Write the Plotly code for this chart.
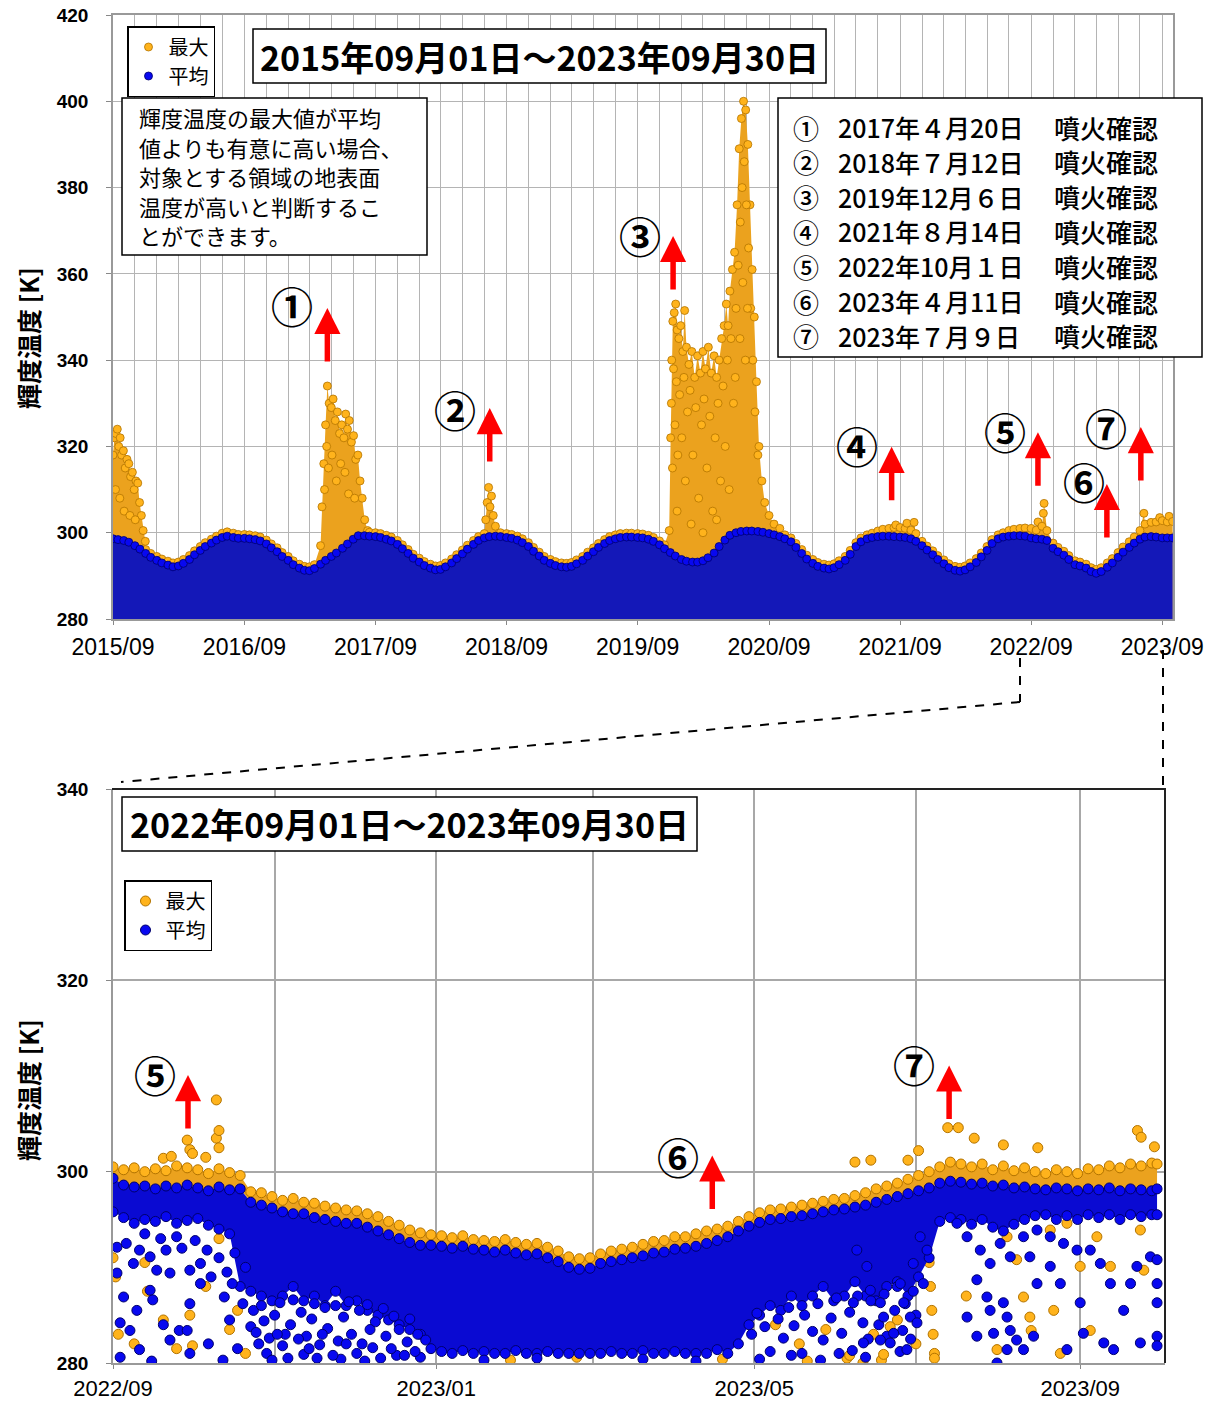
import pandas as pd
import plotly.graph_objects as go

FONT = "Noto Sans CJK JP"
NUMF = "Liberation Sans"
W, H = 1212, 1405


def px(x):
    return x / W


def py(y):
    return 1 - y / H


# ---------------- data: top panel (2015/09/01 - 2023/09/30) ----------------
top_dates = list(pd.date_range("2015-09-01", "2023-09-15", freq="SMS").strftime("%Y-%m-%d")) + ["2023-09-30"]

# upper edge of the "mean" brightness-temperature cloud (semi-monthly, K)
top_mean = [
    298.6, 298.4, 298.2, 297.8, 297.0, 296.2, 295.2, 294.3, 293.6, 293.0, 292.5, 292.1, 292.3, 292.9, 293.8, 294.9, 295.9, 296.8, 297.6, 298.3, 298.9, 299.2, 298.9, 298.7,
    298.7, 298.6, 298.4, 298.1, 297.4, 296.5, 295.6, 294.5, 293.6, 292.6, 291.8, 291.3, 291.2, 291.7, 292.7, 293.6, 294.5, 295.3, 296.4, 297.4, 298.5, 299.3, 299.3, 299.2,
    299.1, 298.9, 298.5, 298.1, 297.3, 296.3, 295.2, 294.1, 293.2, 292.4, 291.8, 291.4, 291.5, 292.1, 293.0, 294.0, 295.1, 296.2, 297.3, 298.2, 298.8, 299.1, 299.2, 299.1,
    298.9, 298.7, 298.3, 297.7, 296.8, 295.7, 294.6, 293.6, 292.9, 292.4, 292.1, 292.0, 292.2, 292.8, 293.6, 294.6, 295.6, 296.6, 297.5, 298.2, 298.6, 298.9, 299.0, 299.0,
    298.9, 298.8, 298.5, 298.0, 297.2, 296.3, 295.4, 294.6, 293.8, 293.4, 293.2, 293.2, 293.5, 294.2, 295.3, 296.8, 298.3, 299.4, 300.0, 300.3, 300.4, 300.4, 300.3, 300.1,
    299.8, 299.5, 299.1, 298.6, 297.9, 296.6, 295.2, 293.9, 292.9, 292.2, 291.8, 291.6, 291.9, 292.6, 293.6, 295.0, 296.8, 297.9, 298.6, 298.9, 299.1, 299.2, 299.2, 299.1,
    299.0, 298.9, 298.6, 298.0, 297.0, 296.0, 294.9, 293.8, 292.8, 291.9, 291.3, 291.1, 291.4, 292.1, 293.1, 294.4, 295.9, 297.5, 298.6, 299.0, 299.2, 299.3, 299.3, 299.2,
    298.8, 298.6, 298.5, 298.2, 296.4, 295.6, 294.8, 293.8, 292.6, 292.3, 291.8, 291.0, 290.6, 291.0, 292.0, 293.0, 294.3, 295.5, 296.6, 297.6, 298.5, 299.0, 299.1, 299.0,
    298.8, 298.8, 298.8,
]

# upper edge of the "max" values (semi-monthly, K); None where the detailed anomaly list applies
top_max = [
    None, None, None, None, None, None, 296.1, 295.2, 294.5, 293.9, 293.4, 293.0, 293.2, 293.8, 294.7, 295.8, 296.8, 297.7, 298.5, 299.2, 299.9, 300.2, 299.9, 299.6,
    299.6, 299.5, 299.3, 299.0, 298.3, 297.4, 296.5, 295.4, 294.5, 293.5, 292.7, 292.2, 292.1, 292.6, None, None, None, None, None, None, None, None, None, 300.1,
    300.0, 299.8, 299.4, 299.0, 298.2, 297.2, 296.1, 295.0, 294.1, 293.3, 292.7, 292.3, 292.4, 293.0, 293.9, 294.9, 296.0, 297.1, 298.2, 299.1, 299.8, None, None, 300.0,
    299.8, 299.6, 299.2, 298.6, 297.7, 296.6, 295.5, 294.5, 293.8, 293.3, 293.0, 292.9, 293.1, 293.7, 294.5, 295.5, 296.5, 297.5, 298.4, 299.1, 299.5, 299.8, 299.9, 299.9,
    299.8, 299.7, 299.4, 298.9, 298.1, 297.2, None, None, None, None, None, None, None, None, None, None, None, None, None, None, None, None, None, None,
    None, None, None, 299.5, 298.8, 297.5, 296.1, 294.8, 293.8, 293.1, 292.7, 292.5, 292.8, 293.5, 294.5, 295.9, 297.7, 298.8, 299.5, 299.9, 300.4, 300.8, 301.0, 301.2,
    301.2, 301.0, 300.6, 299.8, 298.0, 296.9, 295.8, 294.7, 293.7, 292.8, 292.2, 292.0, 292.3, 293.0, 294.0, 295.3, 296.8, 298.4, 299.5, 300.0, 300.5, 300.8, 301.0, 301.1,
    301.0, 300.6, 301.5, 300.5, 297.6, 296.6, 295.7, 294.7, 293.5, 293.2, 292.7, 291.9, 291.5, 291.9, 293.0, 294.0, 295.4, 296.7, 297.9, 299.0, 300.5, 302.0, 302.4, 302.5,
    302.8, 302.5, 302.6,
]

# upper edge of the "max" values during the thermal anomalies (date, K)
top_anomaly_edge = [
    ("2015-09-01", 318), ("2015-09-05", 322), ("2015-09-09", 323), ("2015-09-13", 324), ("2015-09-17", 320),
    ("2015-09-21", 322), ("2015-09-25", 318), ("2015-09-30", 319), ("2015-10-05", 315), ("2015-10-10", 317),
    ("2015-10-15", 316), ("2015-10-20", 313), ("2015-10-25", 314), ("2015-10-30", 310), ("2015-11-04", 312),
    ("2015-11-09", 311.5), ("2015-11-14", 307), ("2015-11-19", 304), ("2015-11-24", 300.5), ("2015-11-30", 298),
    ("2017-04-01", 297), ("2017-04-05", 306), ("2017-04-10", 316), ("2017-04-15", 325), ("2017-04-20", 334),
    ("2017-04-25", 330), ("2017-05-01", 329), ("2017-05-06", 331), ("2017-05-12", 326), ("2017-05-18", 328),
    ("2017-05-24", 323), ("2017-05-30", 325), ("2017-06-05", 322), ("2017-06-10", 327.5), ("2017-06-15", 324),
    ("2017-06-20", 326), ("2017-06-26", 321), ("2017-07-02", 322.5), ("2017-07-08", 317), ("2017-07-14", 318),
    ("2017-07-20", 312), ("2017-07-26", 308), ("2017-08-02", 303), ("2017-08-10", 300.5),
    ("2018-07-05", 303), ("2018-07-09", 307), ("2018-07-13", 310.5), ("2018-07-17", 306), ("2018-07-21", 308.5),
    ("2018-07-26", 304), ("2018-08-01", 301.5),
    ("2019-11-28", 300.5), ("2019-12-02", 322), ("2019-12-05", 340), ("2019-12-08", 349), ("2019-12-12", 351),
    ("2019-12-16", 353), ("2019-12-20", 347), ("2019-12-25", 345), ("2019-12-30", 348), ("2020-01-05", 342),
    ("2020-01-10", 351.5), ("2020-01-15", 343), ("2020-01-22", 339), ("2020-01-30", 342), ("2020-02-07", 336),
    ("2020-02-15", 341), ("2020-02-23", 337), ("2020-03-01", 342), ("2020-03-08", 338), ("2020-03-16", 343),
    ("2020-03-24", 337), ("2020-04-01", 341), ("2020-04-08", 336), ("2020-04-15", 340), ("2020-04-22", 345),
    ("2020-04-29", 348), ("2020-05-05", 353), ("2020-05-10", 348), ("2020-05-15", 356), ("2020-05-22", 361),
    ("2020-05-28", 365), ("2020-06-04", 376), ("2020-06-10", 389), ("2020-06-16", 396), ("2020-06-22", 400),
    ("2020-06-28", 398), ("2020-07-04", 390), ("2020-07-10", 376), ("2020-07-16", 361), ("2020-07-22", 350),
    ("2020-07-28", 335), ("2020-08-04", 320), ("2020-08-12", 312), ("2020-08-20", 307), ("2020-09-01", 304),
    ("2020-09-15", 302), ("2020-10-01", 301),
    ("2021-08-20", 301.8), ("2021-09-20", 302.2), ("2021-10-10", 302.4),
    ("2022-09-20", 302.5), ("2022-10-05", 304.5), ("2022-10-07", 306.8),
    ("2023-07-12", 304.5), ("2023-08-25", 303.5), ("2023-09-20", 303.8),
]
# further "max" readings inside the anomaly clouds (date, K)
top_anomaly_inner = [
    ("2015-09-08", 310), ("2015-09-20", 308), ("2015-10-02", 305), ("2015-10-18", 304), ("2015-11-02", 303),
    ("2017-04-12", 310), ("2017-04-18", 320), ("2017-04-23", 315), ("2017-05-03", 318), ("2017-05-15", 312),
    ("2017-05-27", 316), ("2017-06-08", 314), ("2017-06-18", 309), ("2017-07-05", 308),
    ("2019-12-04", 330), ("2019-12-07", 315), ("2019-12-10", 338), ("2019-12-14", 325), ("2019-12-18", 335),
    ("2019-12-22", 318), ("2019-12-27", 332), ("2020-01-02", 322), ("2020-01-08", 336), ("2020-01-12", 312),
    ("2020-01-18", 328), ("2020-01-25", 333), ("2020-02-02", 318), ("2020-02-10", 329), ("2020-02-18", 308),
    ("2020-02-26", 325), ("2020-03-04", 331), ("2020-03-12", 315), ("2020-03-20", 327), ("2020-03-28", 305),
    ("2020-04-04", 322), ("2020-04-12", 330), ("2020-04-19", 312), ("2020-04-26", 334), ("2020-05-02", 320),
    ("2020-05-08", 340), ("2020-05-13", 310), ("2020-05-18", 345), ("2020-05-25", 330), ("2020-06-01", 352),
    ("2020-06-07", 362), ("2020-06-13", 372), ("2020-06-18", 380), ("2020-06-24", 386), ("2020-06-30", 376),
    ("2020-07-06", 366), ("2020-07-12", 352), ("2020-07-18", 340), ("2020-07-24", 328), ("2020-08-01", 318),
    ("2020-06-12", 345), ("2020-06-20", 358), ("2020-06-27", 340), ("2020-07-03", 352), ("2020-05-30", 336),
    ("2020-01-28", 302), ("2020-03-01", 300), ("2020-04-08", 303), ("2019-12-20", 305),
]

eruption_dates = ["2017-04-20", "2018-07-12", "2019-12-06", "2021-08-14", "2022-10-01", "2023-04-11", "2023-07-09"]
eruption_marks = ["①", "②", "③", "④", "⑤", "⑥", "⑦"]
eruption_text = ["2017年４月20日", "2018年７月12日", "2019年12月６日", "2021年８月14日",
                 "2022年10月１日", "2023年４月11日", "2023年７月９日"]
eruption_word = "噴火確認"

note_lines = ["輝度温度の最大値が平均", "値よりも有意に高い場合、", "対象とする領域の地表面",
              "温度が高いと判断するこ", "とができます。"]

# ---------------- data: bottom panel (2022/09/01 - 2023/09/30) ----------------
bot_dates = list(pd.date_range("2022-09-01", periods=99, freq="4D").strftime("%Y-%m-%d")) + ["2023-09-30"]

bot_mean_top = [
    299.3, 298.6, 298.4, 298.5, 298.2, 298.5, 298.3, 298.6, 298.3, 298.0, 298.4, 298.1, 298.2,
    296.8, 296.5, 296.2, 295.8, 295.6, 295.6, 295.2, 295.0, 294.8, 294.6, 294.6, 294.2, 293.8, 293.4, 293.0, 292.6, 292.3,
    292.3, 292.2, 292.0, 292.2, 291.9, 291.8, 291.6, 291.8, 291.5, 291.3, 291.4, 291.0, 290.6, 290.0, 289.8,
    289.9, 290.4, 290.6, 290.8, 291.0, 291.2, 291.5, 291.6, 291.9, 292.0, 292.2, 292.5, 292.8, 293.2, 293.8,
    294.3, 294.7, 295.0, 295.1, 295.3, 295.4, 295.6, 295.8, 296.0, 296.1, 296.3, 296.5, 296.8, 297.1, 297.4, 297.7, 298.0,
    298.3, 298.8, 299.0, 298.9, 298.7, 298.8, 298.5, 298.6, 298.3, 298.4, 298.2, 298.1, 298.3, 298.2, 298.0, 298.2, 298.1,
    298.3, 298.0, 298.2, 298.1, 298.0,
    298.2,
]
bot_mean_floor = [
    295.8, 295.2, 294.6, 295.0, 294.8, 295.3, 294.6, 294.9, 295.1, 294.4, 294.0, 293.5, 288.0,
    287.5, 287.0, 286.5, 287.0, 288.0, 286.5, 287.0, 286.0, 287.5, 286.0, 286.5, 285.5, 285.0, 284.5, 284.0, 283.5, 283.0,
    281.5, 281.2, 281.0, 281.3, 281.0, 281.2, 281.0, 281.0, 281.3, 281.0, 281.0, 281.2, 281.0, 281.0, 281.0,
    281.0, 281.0, 281.2, 281.0, 281.0, 281.3, 281.0, 281.0, 281.2, 281.0, 281.0, 281.0, 281.4, 281.0, 282.0,
    284.0, 285.0, 286.0, 285.5, 287.0, 286.0, 287.0, 288.0, 286.5, 287.0, 288.5, 287.0, 286.5, 288.0, 288.5, 287.0, 289.0,
    291.0, 294.8, 295.2, 295.0, 294.5, 295.0, 294.2, 293.8, 294.5, 295.0, 295.4, 295.5, 295.0, 295.4, 295.0, 295.5, 295.2,
    295.5, 295.0, 295.5, 295.3, 295.5,
    295.5,
]
bot_max_top = [
    300.5, 300.2, 300.4, 300.0, 300.3, 300.1, 300.6, 300.4, 300.2, 299.8, 300.3, 299.9, 299.6,
    297.9, 297.8, 297.4, 297.0, 297.2, 296.8, 296.7, 296.4, 296.2, 296.0, 295.9, 295.6, 295.3, 294.8, 294.4, 293.9, 293.6,
    293.4, 293.3, 293.1, 293.3, 292.9, 292.8, 292.7, 292.9, 292.6, 292.4, 292.5, 292.1, 291.7, 291.1, 290.9,
    291.0, 291.4, 291.7, 291.9, 292.1, 292.4, 292.7, 292.8, 293.2, 293.2, 293.5, 293.8, 294.0, 294.3, 294.8,
    295.3, 295.7, 296.0, 296.1, 296.3, 296.5, 296.7, 296.9, 297.1, 297.2, 297.5, 297.8, 298.2, 298.5, 298.8, 299.2, 299.6,
    300.0, 300.5, 301.0, 300.8, 300.5, 300.8, 300.2, 300.6, 300.1, 300.4, 300.0, 299.8, 300.2, 300.0, 299.8, 300.3, 300.2,
    300.6, 300.4, 300.8, 300.6, 300.9,
    300.8,
]

# individual readings: (days after 2022-09-01, K)
bot_max_high = [
    (19, 301.4), (22, 301.6), (28, 303.3), (29, 302.3), (30, 301.9), (35, 301.5), (39, 307.5), (39, 303.5),
    (40, 304.3), (40, 302.5), (280, 301.0), (286, 301.2), (300, 301.2), (304, 302.2), (315, 304.6), (319, 304.6),
    (325, 303.5), (336, 302.8), (349, 302.5), (386.6, 304.3), (388, 303.6), (393, 302.6),
]
bot_max_low = [
    (0, 291), (1, 289), (2, 283), (8, 282), (13, 287.5), (19, 284.5), (29, 285), (30, 281.8), (24, 281.5),
    (35, 288), (44, 283.5), (47, 285.5), (50, 281), (12, 290.5), (40, 293), (150, 280.3), (175, 280.6),
    (230, 280.4), (250, 284.0), (259, 282.0), (269, 283.5), (277, 280.5), (287, 283.0), (296, 284.5), (303, 282.0),
    (262, 280.2), (278, 280.8), (290, 280.3), (293.3, 283.8), (290.8, 280.9), (283, 280), (308, 290.5),
    (308.5, 288), (309, 285.5), (309.5, 283), (310, 281), (310, 280.5), (322, 287), (333.6, 281.4),
    (343.6, 286.9), (346, 284.8), (346.5, 283.4), (341, 290.8), (337.4, 293.2), (355, 285.5), (357.5, 281),
    (365, 290.1), (368.8, 283.4), (376.4, 290.1), (387.7, 293.9), (389, 289.7), (371.3, 293.2), (353.7, 293.9),
    (360, 294.6),
]
bot_mean_low = [
    (1.5, 292.1), (5, 292.5), (7.7, 290.4), (10, 291.8), (14, 291.1), (16.5, 289.7), (20, 291.8), (21.5, 289.4),
    (1.5, 289.4), (4, 286.9), (2.7, 284.2), (6.4, 283.4), (2.7, 280.6), (10, 281.4), (14.6, 280.2), (14, 287.6),
    (15, 286.6), (21.5, 282.4), (25, 283.4), (28, 283.4), (29, 286.2), (29, 289.7), (33, 290.4), (33, 288.3),
    (29, 281.0), (42, 286.9), (41.5, 280.3), (35.5, 291.8), (24, 293.2), (45, 288.3), (49, 286.2), (52, 283.8),
    (12, 293.5), (18, 293.0), (26, 292.0), (31, 292.8), (37, 289.0), (44, 284.5), (47, 281.5), (9, 285.5),
    (19, 284.0), (36, 282.0), (50, 290.0), (40, 291.0), (43, 289.5), (46, 291.5),
    (53, 285.5), (54, 283.2), (56, 286.0), (57, 284.4), (59, 282.6), (61, 285.0), (63, 286.3), (64, 281.8),
    (67, 284.0), (68, 286.6), (71, 285.3), (72, 280.9), (75, 284.6), (76, 286.2), (78, 281.9), (80, 285.8),
    (81, 283.6), (84, 286.0), (85, 282.3), (87, 284.8), (89, 286.4), (90, 283.0), (93, 285.5), (94, 282.0),
    (96, 286.1), (98, 281.6), (99, 284.3), (102, 285.7), (103, 282.8), (106, 284.9), (107, 280.8), (108, 283.5),
    (111, 282.2), (112, 284.6), (115, 283.0), (116, 280.6), (118, 282.4), (65, 283.0), (73, 282.8), (86, 280.4),
    (55, 282), (58, 281), (62, 283), (66, 280.5), (70, 282.5), (74, 281.5), (79, 283), (83, 280.8), (88, 282),
    (92, 281), (97, 283.5), (101, 280.5), (105, 281.5), (110, 280.8), (114, 281.2), (60, 280.3), (77, 280.5),
    (95, 280.2),
    (140, 280.3), (160, 280.5), (200, 280.4), (220, 280.2),
    (241, 283.0), (243, 285.2), (246, 283.8), (248, 281.2), (251, 284.6), (253, 282.6), (255, 285.8), (257, 283.9),
    (260, 281.0), (261, 285.0), (264, 283.3), (266, 286.2), (268, 282.4), (271, 284.7), (273, 286.8), (275, 283.1),
    (278, 285.3), (279, 281.3), (281, 287.0), (283, 284.2), (285, 282.5), (286, 286.5), (289, 284.0), (291, 287.2),
    (292, 282.8), (295, 285.5), (296, 288.0), (298, 283.4), (299, 286.2), (301, 282.5), (302, 287.5), (303, 285.0),
    (244, 280.4), (256, 280.8), (267, 280.3), (274, 281.0), (284, 280.6), (297, 281.2),
    (280.7, 291.8), (284.5, 290.1), (285.8, 287.6), (289.6, 286.3), (290.8, 284.8), (294.6, 283.1), (297.1, 288.3),
    (298.4, 286.3), (300.9, 284.8), (279.4, 286.3), (283.2, 282.1), (289.6, 282.4), (293.3, 282.1), (299.6, 281.4),
    (304.6, 293.2), (307.2, 291.8), (305.8, 288.3), (303.4, 284.2), (302, 290.4),
    (326, 288.7), (329.8, 286.9), (322.3, 284.8), (331, 285.5), (336, 286.3), (337.4, 284.8), (338.6, 283.4),
    (341, 282.4), (343.6, 281.4), (337.4, 281.4), (333.6, 280.0), (326, 282.8), (332.3, 283.1), (347.4, 282.8),
    (348.7, 288.3), (353.7, 290.1), (357.5, 288.3), (360, 281.4), (365, 286.3), (366.2, 283.1), (368.8, 291.8),
    (372.6, 290.4), (376.4, 288.3), (373.9, 282.1), (377.6, 281.4), (381.4, 285.5), (384, 288.3), (386.4, 290.1),
    (387.7, 282.1), (391.5, 291.1), (394, 290.8), (394, 288.3), (394, 286.3), (394, 282.8), (394, 281.8),
    (346, 291.1), (353.7, 293.2), (358.7, 292.5), (363.8, 291.8), (343.6, 293.2), (348.7, 293.9), (318.5, 294.6),
    (322.3, 293.2), (327.3, 291.8), (331, 290.4), (334.8, 292.5), (338.6, 291.1),
]

# ---------------- styles ----------------
OR_FACE, OR_EDGE, OR_FILL = "#FFB31C", "#B27300", "#EBA21E"
BL_FACE, BL_EDGE = "#0808F0", "#00006A"
BL_FILL_TOP, BL_FILL_BOT = "#1418B8", "#0A0AD2"
GRID = "#B4B4B4"

start = pd.Timestamp("2022-09-01")


def off2date(days):
    return list(start + pd.to_timedelta(list(days), unit="D"))


fig = go.Figure()

# ---- top panel: max (orange) ----
tm = pd.DataFrame({"d": pd.to_datetime(top_dates), "v": top_max}).dropna()
te = pd.DataFrame(top_anomaly_edge, columns=["d", "v"])
te["d"] = pd.to_datetime(te["d"])
ti = pd.DataFrame(top_anomaly_inner, columns=["d", "v"])
ti["d"] = pd.to_datetime(ti["d"])
edge = pd.concat([tm, te]).sort_values("d")

fig.add_trace(go.Scatter(x=edge["d"], y=edge["v"], mode="lines", fill="tozeroy", fillcolor=OR_FILL,
                         line=dict(width=0), xaxis="x", yaxis="y", showlegend=False, hoverinfo="skip"))
allmax = pd.concat([edge, ti])
fig.add_trace(go.Scatter(x=allmax["d"], y=allmax["v"], mode="markers", name="最大", legend="legend",
                         marker=dict(size=8, color=OR_FACE, line=dict(color=OR_EDGE, width=0.8)),
                         xaxis="x", yaxis="y"))
# ---- top panel: mean (blue) ----
fig.add_trace(go.Scatter(x=top_dates, y=top_mean, mode="lines", fill="tozeroy", fillcolor=BL_FILL_TOP,
                         line=dict(width=0), xaxis="x", yaxis="y", showlegend=False, hoverinfo="skip"))
fig.add_trace(go.Scatter(x=top_dates, y=top_mean, mode="markers", name="平均", legend="legend",
                         marker=dict(size=8, color=BL_FACE, line=dict(color=BL_EDGE, width=0.8)),
                         xaxis="x", yaxis="y"))

# ---- bottom panel: max (orange) ----
fig.add_trace(go.Scatter(x=bot_dates, y=bot_mean_top, mode="lines", line=dict(width=0),
                         xaxis="x2", yaxis="y2", showlegend=False, hoverinfo="skip"))
fig.add_trace(go.Scatter(x=bot_dates, y=bot_max_top, mode="lines", line=dict(width=0), fill="tonexty",
                         fillcolor=OR_FILL, xaxis="x2", yaxis="y2", showlegend=False, hoverinfo="skip"))
or_x = list(pd.to_datetime(bot_dates)) + off2date([p[0] for p in bot_max_low]) + off2date([p[0] for p in bot_max_high])
or_y = bot_max_top + [p[1] for p in bot_max_low] + [p[1] for p in bot_max_high]
fig.add_trace(go.Scatter(x=or_x, y=or_y, mode="markers", name="最大", legend="legend2",
                         marker=dict(size=10, color=OR_FACE, line=dict(color=OR_EDGE, width=1)),
                         xaxis="x2", yaxis="y2"))
# ---- bottom panel: mean (blue) ----
fig.add_trace(go.Scatter(x=bot_dates, y=bot_mean_floor, mode="lines", line=dict(width=0),
                         xaxis="x2", yaxis="y2", showlegend=False, hoverinfo="skip"))
fig.add_trace(go.Scatter(x=bot_dates, y=bot_mean_top, mode="lines", line=dict(width=0), fill="tonexty",
                         fillcolor=BL_FILL_BOT, xaxis="x2", yaxis="y2", showlegend=False, hoverinfo="skip"))
bl_x = list(pd.to_datetime(bot_dates)) * 2 + off2date([p[0] for p in bot_mean_low])
bl_y = bot_mean_top + bot_mean_floor + [p[1] for p in bot_mean_low]
fig.add_trace(go.Scatter(x=bl_x, y=bl_y, mode="markers", name="平均", legend="legend2",
                         marker=dict(size=10, color=BL_FACE, line=dict(color=BL_EDGE, width=1)),
                         xaxis="x2", yaxis="y2"))

# ---------------- axes ----------------
ytick_font = dict(family=NUMF, size=19, color="black", weight="bold")

common_x = dict(type="date", tickformat="%Y/%m", showgrid=True, ticks="outside", ticklen=4, tickcolor="#888",
                showline=True, linecolor="#999", linewidth=1.5, zeroline=False, automargin=False)
common_y = dict(dtick=20, showgrid=True, ticks="outside", ticklen=5, tickcolor="#888", showline=True,
                linecolor="#999", linewidth=1.5, zeroline=False, tickfont=ytick_font, ticklabelstandoff=14,
                automargin=False)

fig.update_layout(
    width=W, height=H, margin=dict(l=0, r=0, t=0, b=0, autoexpand=False),
    paper_bgcolor="white", plot_bgcolor="white",
    font=dict(family=FONT, color="black"),
    xaxis=dict(domain=[px(113), px(1173)], anchor="y", range=["2015-09-01", "2023-10-01"], dtick="M12",
               tick0="2015-09-01", gridcolor=GRID, gridwidth=1, mirror=True,
               tickfont=dict(family=NUMF, size=23, color="black"), ticklabelstandoff=3,
               minor=dict(dtick="M2", tick0="2015-09-01", showgrid=True, gridcolor=GRID, gridwidth=1), **common_x),
    yaxis=dict(domain=[py(619), py(15)], anchor="x", range=[280, 420], gridcolor=GRID, gridwidth=1, mirror=True,
               **common_y),
    xaxis2=dict(domain=[px(113), px(1165)], anchor="y2", range=["2022-09-01", "2023-10-03"], dtick="M4",
                tick0="2022-09-01", gridcolor="#A8A8A8", gridwidth=1.5,
                tickfont=dict(family=NUMF, size=22, color="black"), ticklabelstandoff=1,
                minor=dict(dtick="M2", tick0="2022-09-01", showgrid=True, gridcolor="#A8A8A8", gridwidth=1.5),
                **common_x),
    yaxis2=dict(domain=[py(1363), py(789)], anchor="x2", range=[280, 340], gridcolor="#A8A8A8", gridwidth=1.5,
                **common_y),
    legend=dict(x=px(127), y=py(26), xanchor="left", yanchor="top", bgcolor="white", bordercolor="black",
                borderwidth=1.5, font=dict(family=FONT, size=20), itemsizing="trace", tracegroupgap=0,
                itemwidth=30, traceorder="normal"),
    legend2=dict(x=px(124), y=py(880), xanchor="left", yanchor="top", bgcolor="white", bordercolor="black",
                 borderwidth=1.5, font=dict(family=FONT, size=20), itemsizing="trace", tracegroupgap=0,
                 itemwidth=30, traceorder="normal"),
)

shapes = []
annotations = []


def rect(x0, y0, x1, y1, w=1.5):
    shapes.append(dict(type="rect", xref="paper", yref="paper", x0=px(x0), x1=px(x1), y0=py(y1), y1=py(y0),
                       line=dict(color="black", width=w), fillcolor="white", layer="above"))


def text(x, y, s, size, xanchor="left", weight="normal", angle=0, yanchor="middle"):
    annotations.append(dict(xref="paper", yref="paper", x=px(x), y=py(y), text=s, showarrow=False,
                            xanchor=xanchor, yanchor=yanchor, textangle=angle, align="left",
                            font=dict(family=FONT, size=size, color="black", weight=weight)))


# bottom panel frame (top / right)
shapes.append(dict(type="line", xref="paper", yref="paper", x0=px(112), x1=px(1166), y0=py(789), y1=py(789),
                   line=dict(color="#222", width=2)))
shapes.append(dict(type="line", xref="paper", yref="paper", x0=px(1165), x1=px(1165), y0=py(789), y1=py(1363),
                   line=dict(color="#222", width=2)))

# zoom connector lines
for (x0, y0, x1, y1) in [(1020, 658, 1020, 702), (1020, 702, 121, 782), (1163, 650, 1163, 786)]:
    shapes.append(dict(type="line", xref="paper", yref="paper", x0=px(x0), x1=px(x1), y0=py(y0), y1=py(y1),
                       line=dict(color="black", width=2, dash="dash")))

# top title
rect(253, 29, 826, 83)
text(539.5, 56, "2015年09月01日～2023年09月30日", 34, xanchor="center", weight="bold")
# note box
rect(122, 98, 427, 255)
for i, s in enumerate(note_lines):
    text(137, 117 + i * 29.6, s, 22)
# eruption list box
rect(778, 98, 1202, 357)
for i, (m, t) in enumerate(zip(eruption_marks, eruption_text)):
    yy = 127 + i * 34.8
    text(791, yy, m, 26, weight=500)
    text(836, yy, t, 25, weight=500)
    text(1052, yy, eruption_word, 26, weight=500)
# bottom title
rect(122, 797, 697, 851)
text(409.5, 824, "2022年09月01日～2023年09月30日", 34, xanchor="center", weight="bold")
# y-axis titles
text(28, 338, "輝度温度 [K]", 25, xanchor="center", weight="bold", angle=-90)
text(28, 1090, "輝度温度 [K]", 25, xanchor="center", weight="bold", angle=-90)

# eruption arrows: (event index, axis suffix, tip value, arrow x shift, label dx, label dy)
arrow_specs = [
    (0, "", 352.1, 0, -35, 3), (1, "", 328.9, 1.5, -35, 0), (2, "", 368.8, 1, -33, 1),
    (3, "", 319.9, -2, -35, 2), (4, "", 323.3, -4, -33, 2), (5, "", 311.3, -4, -23, 3),
    (6, "", 324.5, -2, -35, 1),
    (4, "2", 310.1, -4.5, -33, 2), (5, "2", 301.7, 11, -34, 0), (6, "2", 311.1, 12, -35, 2),
]
for idx, ax_id, tip, xs, ldx, ldy in arrow_specs:
    annotations.append(dict(xref="x" + ax_id, yref="y" + ax_id, x=eruption_dates[idx], y=tip, xshift=xs,
                            text="", showarrow=True, ax=0, ay=55, arrowhead=2, arrowsize=0.95, arrowwidth=5.5,
                            arrowcolor="#FF0000"))
    annotations.append(dict(xref="x" + ax_id, yref="y" + ax_id, x=eruption_dates[idx], y=tip,
                            xshift=xs + ldx, yshift=ldy, text=eruption_marks[idx], showarrow=False,
                            xanchor="center", yanchor="middle",
                            font=dict(family=FONT, size=42, color="black", weight="bold")))

fig.update_layout(shapes=shapes, annotations=annotations)
fig.write_html("out.html", config={"displayModeBar": False},
               post_script="document.body.style.margin='0px';document.body.style.overflow='hidden';")
